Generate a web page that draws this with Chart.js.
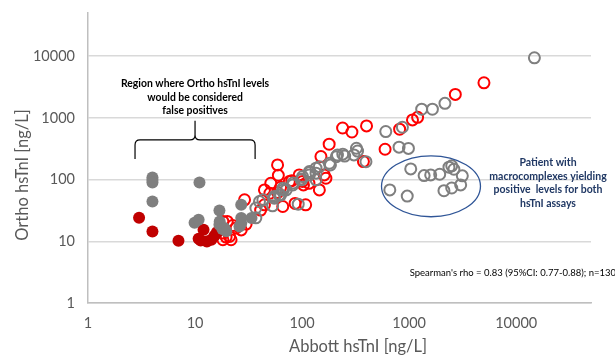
<!DOCTYPE html>
<html>
<head>
<meta charset="utf-8">
<script src="https://cdn.jsdelivr.net/npm/chart.js@4.4.1/dist/chart.umd.min.js"></script>
<style>
  html, body { margin: 0; padding: 0; background: #fff; }
</style>
</head>
<body>
<canvas id="scatterChart" width="615" height="356"></canvas>
<script>
"use strict";

// log axes, both 1 .. 50000
const xTicks = [1, 10, 100, 1000, 10000];
const yTicks = [1, 10, 100, 1000, 10000];
const axisMin = 1;
const axisMax = 50000;

// points as [Abbott, Ortho] in ng/L
const solidRed = [
  [3, 24], [4, 14.4], [7, 10.2], [10.8, 11], [12, 15.4], [12.9, 9.9],
  [14.2, 10.6], [15.2, 12.3], [16, 14], [11.3, 10.3]
];

const solidGray = [
  [4, 108], [4, 98], [4, 90], [4, 44], [11, 90], [9.9, 20], [10.8, 22.3],
  [16.9, 31.5], [17, 21], [16.9, 18.5], [18, 15.8], [18.8, 16.4], [19.6, 14.5],
  [27, 39], [27, 23.8], [26, 17.4], [27, 19.5], [33.7, 23.8]
];

const openRed = [
  [5000, 3700], [2700, 2400], [1200, 1020], [1075, 925], [815, 655], [596, 310],
  [400, 740], [292, 590], [239, 685], [374, 196], [179, 374], [150, 236],
  [145, 68], [161, 119], [167, 105], [116, 87], [108, 39], [103, 82], [94, 119],
  [101, 93], [76, 93], [80, 96], [86, 41], [66, 36.6], [63, 75], [60, 117],
  [59, 173], [51, 87], [50, 60], [59, 61.5], [44.5, 68], [44.5, 39], [41, 32],
  [29, 47], [30, 19], [27, 15.3], [22.5, 18], [21, 12], [18.2, 21], [18.2, 10.6],
  [18.2, 13.6], [19.5, 11.7], [21.7, 10.6], [20, 21], [24.2, 16.4]
];

const openGray = [
  [14800, 9400], [2160, 1720], [1650, 1380], [1310, 1380], [865, 705], [605, 600],
  [805, 335], [985, 320],
  [1035, 149], [660, 68], [960, 54], [1380, 116], [1590, 119], [1930, 122],
  [2355, 159], [2500, 167], [2620, 147], [3140, 115], [3030, 82], [2500, 73], [2115, 66],
  [214, 250], [240, 258], [250, 240], [305, 251], [322, 322], [330, 290], [395, 195],
  [180, 184], [145, 162], [117, 135], [135, 127], [101, 112], [82, 82], [66, 72],
  [63, 56], [55, 53], [135, 99], [117, 119], [135, 153], [98, 99], [82, 88], [71, 68],
  [61, 56], [55, 50], [43, 47], [37, 34.5], [92, 40], [37, 24], [40, 44], [53, 37.5],
  [67, 68], [100, 102], [118, 130], [184, 173], [209, 235]
];

// Notizen
const regionNote = ["Region where Ortho hsTnI levels", "would be considered", "false positives"];
const patientNote = ["Patient with", "macrocomplexes yielding", "positive  levels for both", "hsTnI assays"];
const rhoNote = "Spearman's rho = 0.83 (95%CI: 0.77-0.88); n=130";
const xTitle = "Abbott hsTnI [ng/L]";
const yTitle = "Ortho hsTnI [ng/L]";

// brace + ellipse in data units
const braceX = [2.75, 10, 36.4];
const braceY = [216, 439, 901];
const ellipseX = [552, 4640];
const ellipseY = [25, 242];

const textGray = "#595959";
const mainFont = "Lato, 'Open Sans', sans-serif";

function series(points, color, filled) {
  return {
    data: points.map(p => ({ x: p[0], y: p[1] })),
    pointRadius: filled ? 6 : 5.5,
    pointHoverRadius: filled ? 6 : 5.5,
    pointBorderWidth: filled ? 0 : 2,
    pointBorderColor: color,
    pointBackgroundColor: filled ? color : "rgba(0,0,0,0)",
    showLine: false
  };
}

const notes = {
  id: "notes",
  afterDatasetsDraw(chart) {
    const { ctx, scales: { x, y } } = chart;
    ctx.save();

    // Klammer
    const xl = x.getPixelForValue(braceX[0]);
    const xm = x.getPixelForValue(braceX[1]);
    const xr = x.getPixelForValue(braceX[2]);
    const yb = y.getPixelForValue(braceY[0]);
    const yt = y.getPixelForValue(braceY[1]);
    const yp = y.getPixelForValue(braceY[2]);
    const r = 5;
    ctx.strokeStyle = "#000";
    ctx.lineWidth = 1.2;
    ctx.beginPath();
    ctx.moveTo(xl, yb);
    ctx.lineTo(xl, yt + r);
    ctx.quadraticCurveTo(xl, yt, xl + r, yt);
    ctx.lineTo(xm - r, yt);
    ctx.quadraticCurveTo(xm, yt, xm, yt - r);
    ctx.lineTo(xm, yp);
    ctx.moveTo(xm, yt - r);
    ctx.quadraticCurveTo(xm, yt, xm + r, yt);
    ctx.lineTo(xr - r, yt);
    ctx.quadraticCurveTo(xr, yt, xr, yt + r);
    ctx.lineTo(xr, yb);
    ctx.stroke();

    // Ellipse
    const ex0 = x.getPixelForValue(ellipseX[0]);
    const ex1 = x.getPixelForValue(ellipseX[1]);
    const ey0 = y.getPixelForValue(ellipseY[0]);
    const ey1 = y.getPixelForValue(ellipseY[1]);
    ctx.strokeStyle = "#2F5597";
    ctx.lineWidth = 1.3;
    ctx.beginPath();
    ctx.ellipse((ex0 + ex1) / 2, (ey0 + ey1) / 2, Math.abs(ex1 - ex0) / 2, Math.abs(ey0 - ey1) / 2, 0, 0, Math.PI * 2);
    ctx.stroke();

    // Texte
    ctx.textAlign = "center";
    ctx.textBaseline = "middle";
    ctx.fillStyle = "#000";
    ctx.font = "bold 10.4px " + mainFont;
    regionNote.forEach((line, i) => ctx.fillText(line, xm, 84 + i * 13.4));

    ctx.fillStyle = "#203864";
    ctx.font = "bold 10.5px " + mainFont;
    patientNote.forEach((line, i) => ctx.fillText(line, 548, 163 + i * 13.5));

    ctx.fillStyle = "#000";
    ctx.font = "9.5px " + mainFont;
    ctx.textAlign = "right";
    ctx.fillText(rhoNote, 616, 273);

    // Achsentitel
    ctx.fillStyle = textGray;
    ctx.font = "16.5px " + mainFont;
    ctx.textAlign = "center";
    ctx.fillText(xTitle, 358, 347);
    ctx.translate(23, 175);
    ctx.rotate(-Math.PI / 2);
    ctx.fillText(yTitle, 0, 0);

    ctx.restore();
  }
};

const ctx = document.getElementById("scatterChart").getContext("2d");

new Chart(ctx, {
  type: "scatter",
  data: {
    datasets: [
      series(solidGray, "#7F7F7F", true),
      series(solidRed, "#C00000", true),
      series(openGray, "#7F7F7F", false),
      series(openRed, "#FF0000", false)
    ]
  },
  options: {
    responsive: false,
    animation: false,
    devicePixelRatio: 1,
    layout: { padding: { top: 13, right: 24, left: 0, bottom: 0 } },
    plugins: {
      legend: { display: false },
      tooltip: { enabled: false }
    },
    scales: {
      x: {
        type: "logarithmic",
        min: axisMin,
        max: axisMax,
        afterBuildTicks: scale => { scale.ticks = xTicks.map(v => ({ value: v })); },
        afterFit: scale => {
          scale.height = 53;
          scale.paddingLeft = 0;
          scale.paddingRight = 0;
        },
        ticks: {
          callback: v => String(v),
          color: textGray,
          font: { family: mainFont, size: 14.5 },
          padding: 12,
          maxRotation: 0,
          autoSkip: false
        },
        grid: { display: true, drawOnChartArea: false, drawTicks: false },
        border: { display: true, color: "#BFBFBF", width: 1.5 }
      },
      y: {
        type: "logarithmic",
        min: axisMin,
        max: axisMax,
        afterBuildTicks: scale => { scale.ticks = yTicks.map(v => ({ value: v })); },
        afterFit: scale => {
          scale.width = 88;
          scale.paddingTop = 0;
          scale.paddingBottom = 0;
        },
        ticks: {
          callback: v => String(v),
          color: textGray,
          font: { family: mainFont, size: 14.5 },
          padding: 13,
          autoSkip: false
        },
        grid: { color: "#D9D9D9", lineWidth: 1.5, drawTicks: false },
        border: { display: true, color: "#BFBFBF", width: 1.5 }
      }
    }
  },
  plugins: [notes]
});
</script>
</body>
</html>
